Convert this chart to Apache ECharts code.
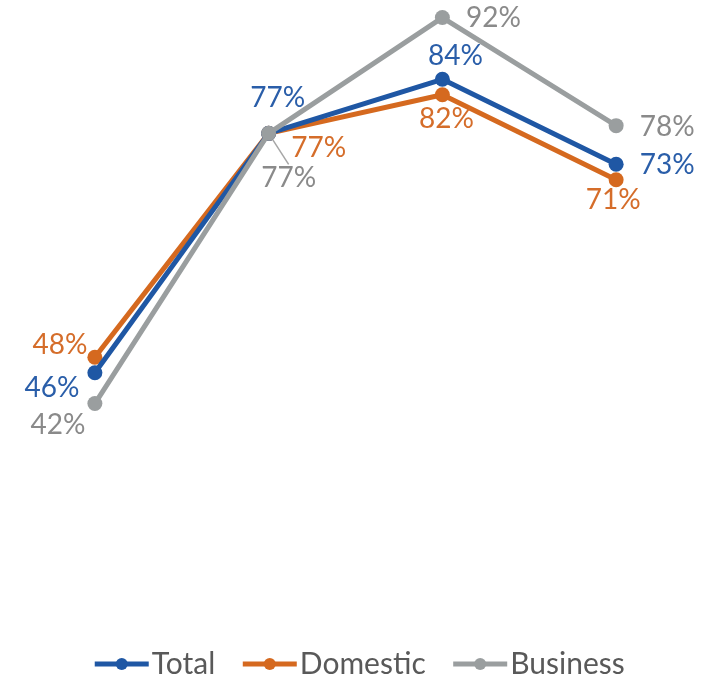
<!DOCTYPE html>
<html>
<head>
<meta charset="utf-8">
<script src="https://cdn.jsdelivr.net/npm/echarts@6/dist/echarts.min.js"></script>
<style>
  html, body { margin: 0; padding: 0; background: #fff; }
  #chart { width: 717px; height: 677px; }
</style>
</head>
<body>
<div id="chart"></div>
<script>
// Four survey waves, share of respondents (%)
const categories = ['Wave 1', 'Wave 2', 'Wave 3', 'Wave 4'];
const totalValues = [46, 77, 84, 73];
const domesticValues = [48, 77, 82, 71];
const businessValues = [42, 77, 92, 78];

// Label offsets from each point (label centre relative to marker)
const totalOffsets = [[-43, 15], [9, -35], [13, -23], [51, 1]];
const domesticOffsets = [[-35, -12], [50, 15], [4, 24], [-3, 20]];
const businessOffsets = [[-37, 21], [20, 45], [51, 0], [51, 1]];

const FONT = 'Lato';

function makeSeries(name, values, offsets, lineColor, textColor, guideIndex) {
  return {
    name: name,
    type: 'line',
    symbol: 'circle',
    symbolSize: 15,
    clip: false,
    lineStyle: { width: 5, color: lineColor },
    itemStyle: { color: lineColor },
    data: values.map((v, i) => {
      const item = {
        value: v,
        label: {
          show: true,
          position: 'inside',
          offset: offsets[i],
          formatter: '{c}%',
          color: textColor,
          fontFamily: FONT,
          fontSize: 28,
          align: 'center',
          verticalAlign: 'middle'
        }
      };
      if (i === guideIndex) {
        item.labelLine = { show: true, lineStyle: { color: '#a6a6a6', width: 1.5 } };
      }
      return item;
    }),
    z: name === 'Business' ? 3 : (name === 'Total' ? 2 : 1)
  };
}

const chart = echarts.init(document.getElementById('chart'));
chart.setOption({
  animation: false,
  backgroundColor: '#ffffff',
  grid: { left: 8, right: 14, top: 33, height: 386 },
  xAxis: {
    type: 'category',
    data: categories,
    boundaryGap: true,
    show: false
  },
  yAxis: {
    type: 'value',
    min: 40,
    max: 90,
    show: false
  },
  legend: {
    top: 644,
    left: 'center',
    itemWidth: 54,
    itemHeight: 15,
    itemGap: 25,
    lineStyle: { width: 5 },
    textStyle: { color: '#595959', fontFamily: FONT, fontSize: 30, padding: [0, 0, 0, -2] },
    data: ['Total', 'Domestic', 'Business']
  },
  series: [
    makeSeries('Total', totalValues, totalOffsets, '#1f57a4', '#2a5ea9', -1),
    makeSeries('Domestic', domesticValues, domesticOffsets, '#d5691f', '#d56d2a', -1),
    makeSeries('Business', businessValues, businessOffsets, '#9a9e9f', '#8a8a8a', 1)
  ]
});
</script>
</body>
</html>
